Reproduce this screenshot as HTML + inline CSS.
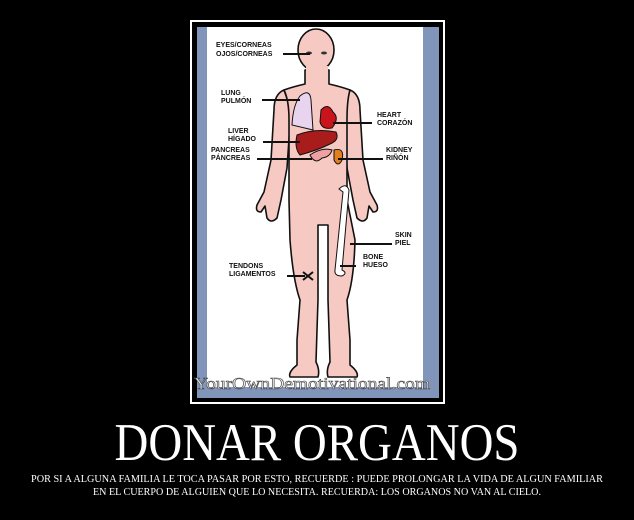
<!DOCTYPE html>
<html><head><meta charset="utf-8"><style>
html,body{margin:0;padding:0;background:#000;width:634px;height:520px;overflow:hidden}
</style></head><body>
<svg width="634" height="520" viewBox="0 0 634 520" xmlns="http://www.w3.org/2000/svg">
<rect width="634" height="520" fill="#000"/>
<rect x="191" y="21" width="253" height="382" fill="none" stroke="#fff" stroke-width="2"/>
<rect x="197" y="27" width="242" height="371" fill="#8095b9"/>
<rect x="207" y="27" width="216" height="360" fill="#fff"/>
<g stroke="#111" stroke-width="1.6" fill="#f6c9c3" stroke-linejoin="round">
<!-- arms -->
<path d="M284,90 Q274,94 274,110 L271,160 L264,192 L257,205 Q255,212 261,212 L265,206 L267,218 Q271,224 277,218 L281,200 L287,168 L291,110 Z"/>
<path d="M350,90 Q360,94 360,110 L363,160 L370,192 L377,205 Q379,212 373,212 L369,206 L367,218 Q363,224 357,218 L353,200 L347,168 L343,110 Z"/>
<!-- torso + legs -->
<path d="M305,70 L305,84 Q292,87 284,90 Q289,100 289,120 L289,200 L290,240 Q293,280 300,300 L297,340 L297,365 Q288,372 290,377 L318,377 Q320,370 316,362 L317,330 L318,300 L318,225 L328,225 L328,300 L329,330 L330,362 Q326,370 328,377 L357,377 Q359,372 350,365 L350,340 L347,300 Q354,280 355,240 L347,200 L347,120 Q347,100 350,90 Q342,87 329,84 L329,70 Z"/>
<ellipse cx="316" cy="50" rx="18" ry="21"/>
</g>
<rect x="306" y="66" width="22" height="8" fill="#f6c9c3"/>
<!-- organs -->
<path d="M300,96 Q310,88 311,100 L313,130 Q305,128 292,125 Q293,105 300,96Z" fill="#e8d4ee" stroke="#111" stroke-width="1"/>
<path d="M321,110 Q328,102 333,112 Q340,118 332,128 Q322,130 320,122Z" fill="#c8141a" stroke="#111" stroke-width="1"/>
<path d="M297,135 Q315,128 336,132 Q340,140 330,144 Q318,150 300,155 Q294,148 297,135Z" fill="#a81c1c" stroke="#111" stroke-width="1"/>
<path d="M310,155 Q322,147 332,150 Q330,157 322,158 Q315,165 310,155Z" fill="#f0a0a0" stroke="#111" stroke-width="1"/>
<path d="M334,150 Q345,147 342,160 Q338,168 334,160Z" fill="#e28020" stroke="#111" stroke-width="1"/>
<path d="M339,189 Q346,182 349,190 L342,270 Q348,273 342,276 Q334,276 335,270 L343,192Z" fill="#fff" stroke="#111" stroke-width="1"/>
<ellipse cx="309" cy="53" rx="3" ry="1.5" fill="#333"/><ellipse cx="324" cy="53" rx="3" ry="1.5" fill="#333"/>
<g stroke="#111" stroke-width="2">
<line x1="283" y1="54" x2="310" y2="54"/>
<line x1="262" y1="100" x2="300" y2="100"/>
<line x1="333" y1="123" x2="372" y2="123"/>
<line x1="263" y1="142" x2="300" y2="142"/>
<line x1="257" y1="159" x2="312" y2="159"/>
<line x1="338" y1="159" x2="383" y2="159"/>
<line x1="350" y1="244" x2="392" y2="244"/>
<line x1="340" y1="266" x2="356" y2="266"/>
<line x1="287" y1="276" x2="305" y2="276"/>
<line x1="303" y1="272" x2="313" y2="280"/><line x1="303" y1="280" x2="313" y2="272"/>
</g>
<g font-family="Liberation Sans, sans-serif" font-size="7" font-weight="bold" fill="#111">
<text x="216" y="47">EYES/CORNEAS</text><text x="216" y="56">OJOS/CORNEAS</text>
<text x="221" y="95">LUNG</text><text x="221" y="103">PULMÓN</text>
<text x="377" y="117">HEART</text><text x="377" y="125">CORAZÓN</text>
<text x="228" y="133">LIVER</text><text x="228" y="141">HÍGADO</text>
<text x="211" y="152">PANCREAS</text><text x="211" y="160">PÁNCREAS</text>
<text x="386" y="152">KIDNEY</text><text x="386" y="160">RIÑÓN</text>
<text x="395" y="237">SKIN</text><text x="395" y="245">PIEL</text>
<text x="363" y="259">BONE</text><text x="363" y="267">HUESO</text>
<text x="229" y="268">TENDONS</text><text x="229" y="276">LIGAMENTOS</text>
</g>
<text x="312" y="389" text-anchor="middle" font-family="Liberation Serif, serif" font-size="17" fill="#f4f4f4" stroke="#444" stroke-width="0.6" textLength="236" lengthAdjust="spacingAndGlyphs">YourOwnDemotivational.com</text>
<text x="317" y="460" text-anchor="middle" font-family="Liberation Serif, serif" font-size="53" fill="#fff" textLength="405" lengthAdjust="spacingAndGlyphs">DONAR ORGANOS</text>
<g font-family="Liberation Serif, serif" font-size="10" fill="#fff" text-anchor="middle">
<text x="317" y="482" textLength="572" lengthAdjust="spacingAndGlyphs">POR SI A ALGUNA FAMILIA LE TOCA PASAR POR ESTO, RECUERDE : PUEDE PROLONGAR LA VIDA DE ALGUN FAMILIAR</text>
<text x="317" y="495" textLength="448" lengthAdjust="spacingAndGlyphs">EN EL CUERPO DE ALGUIEN QUE LO NECESITA. RECUERDA: LOS ORGANOS NO VAN AL CIELO.</text>
</g>
</svg>
</body></html>
